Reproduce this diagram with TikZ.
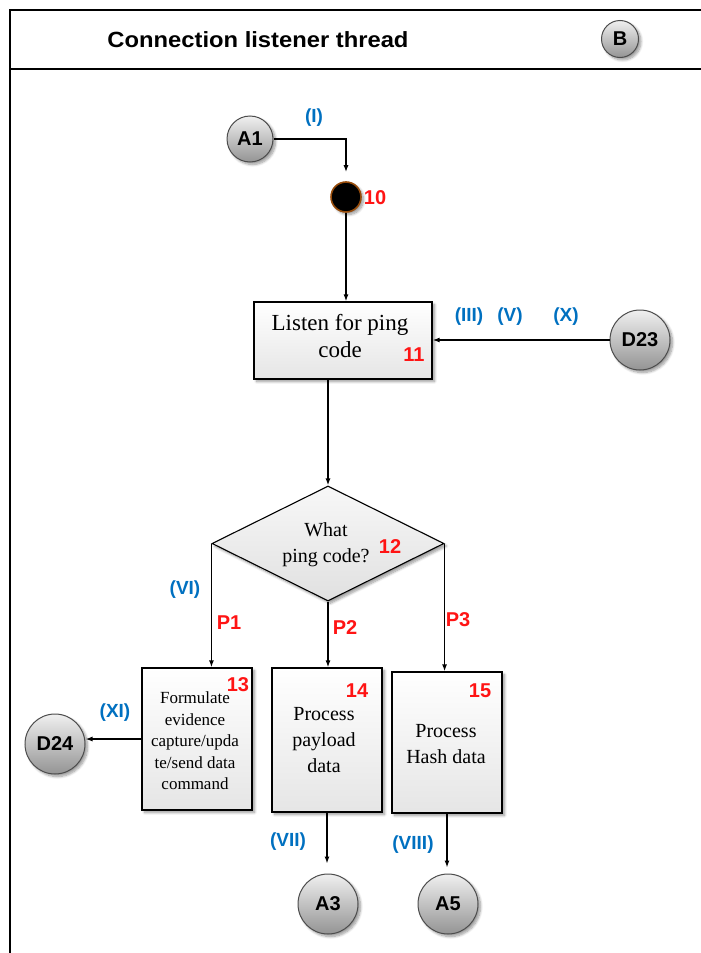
\documentclass[tikz,border=0pt]{standalone}
\usepackage{fontspec}
\setmainfont{Liberation Serif}
\newfontfamily\labelfont{Liberation Sans}
\usetikzlibrary{arrows.meta,shapes.geometric,shadows.blur,calc}

\definecolor{flowblue}{RGB}{0,112,192}
\definecolor{flowred}{RGB}{255,20,20}
\definecolor{dotrim}{RGB}{150,75,10}

\tikzset{
  softshadow/.style={blur shadow={shadow xshift=2.5pt, shadow yshift=-2.5pt,
      shadow blur radius=2.5pt, shadow blur steps=8, shadow opacity=40}},
  connector/.style={circle, draw=black!70, line width=1pt, top color=black!6,
      bottom color=black!42, inner sep=0pt, softshadow,
      font=\labelfont\bfseries\fontsize{20}{20}\selectfont},
  stepbox/.style={rectangle, draw=black, line width=1.3pt, top color=white,
      bottom color=black!10, inner sep=0pt, softshadow},
  decision/.style={diamond, draw=black, line width=1.1pt, top color=black!3,
      bottom color=black!12, inner sep=0pt, softshadow},
  flowline/.style={line width=1.3pt, draw=black},
  arr/.style={flowline, -{Latex[length=7pt,width=5pt]}},
  pathlbl/.style={text=flowblue, font=\labelfont\bfseries\fontsize{19}{19}\selectfont},
  stepno/.style={text=flowred, font=\labelfont\bfseries\fontsize{20}{20}\selectfont},
  boxtext/.style={align=center, font=\fontsize{20}{26}\selectfont},
}

\begin{document}
\begin{tikzpicture}[x=1pt,y=-1pt]
\useasboundingbox (0,0) rectangle (701,953);

% swimlane frame and header
\draw[line width=1.7pt] (701,10) -- (10,10) -- (10,953);
\draw[line width=1.7pt] (10,69) -- (701,69);
\node[font=\labelfont\bfseries\fontsize{22}{22}\selectfont] (title) at (258,40)
  {\scalebox{1.08}[1]{Connection listener thread}};
\node[connector, minimum size=37pt] (B) at (620,39) {B};

% start of the thread
\node[connector, minimum size=46pt] (A1) at (250,139) {A1};
\node[circle, fill=black, draw=dotrim, line width=1.6pt, minimum size=30pt,
      inner sep=0pt, softshadow] (dot10) at (346,197) {};
\node[stepno] (n10) at (375,198) {10};
\node[pathlbl] (lI) at (314,118) {(I)};

% listen step
\node[stepbox, minimum width=178pt, minimum height=77pt] (b11) at (343,340.5) {};
\node[boxtext, font=\fontsize{23}{27}\selectfont] (t11) at (340,336) {Listen for ping\\code};
\node[stepno] (n11) at (414,355) {11};
\node[connector, minimum size=60pt] (D23) at (640,340) {D23};
\node[pathlbl] (lIII) at (469,317) {(III)};
\node[pathlbl] (lV) at (510,317) {(V)};
\node[pathlbl] (lX) at (566,317) {(X)};

% decision on the ping code
\node[decision, minimum width=232pt, minimum height=115pt] (d12) at (328,543.5) {};
\node[boxtext] (t12) at (326,545) {What\\ping code?};
\node[stepno] (n12) at (390,547) {12};
\node[pathlbl] (lVI) at (185,590) {(VI)};
\node[stepno] (p1) at (229,623) {P1};
\node[stepno] (p2) at (345,628) {P2};
\node[stepno] (p3) at (458,620) {P3};

% the three branches
\node[stepbox, minimum width=110pt, minimum height=142pt] (b13) at (197,739) {};
\node[boxtext, font=\fontsize{17}{21.5}\selectfont] (t13) at (195,741)
  {Formulate\\evidence\\capture/upda\\te/send data\\command};
\node[stepno] (n13) at (238,685) {13};
\node[connector, minimum size=60pt] (D24) at (55,744) {D24};
\node[pathlbl] (lXI) at (115,713) {(XI)};

\node[stepbox, minimum width=110pt, minimum height=144pt] (b14) at (327,740) {};
\node[boxtext] (t14) at (324,740) {Process\\payload\\data};
\node[stepno] (n14) at (357,691) {14};

\node[stepbox, minimum width=110pt, minimum height=141pt] (b15) at (447,742.5) {};
\node[boxtext] (t15) at (446,744) {Process\\Hash data};
\node[stepno] (n15) at (480,691) {15};

\node[connector, minimum size=60pt] (A3) at (328,904) {A3};
\node[connector, minimum size=60pt] (A5) at (448,904) {A5};
\node[pathlbl] (lVII) at (288,842) {(VII)};
\node[pathlbl] (lVIII) at (413,845) {(VIII)};

% connectors
\draw[arr, shorten >=9pt] (A1.east) -| (dot10.north);
\draw[arr] (dot10.south) -- (dot10.south |- b11.north);
\draw[arr] (D23.west) -- (D23.west -| b11.east);
\draw[arr] (b11.south -| d12.north) -- (d12.north);
\draw[arr] (d12.west) -- (d12.west |- b13.north);
\draw[arr] (d12.south) -- (d12.south |- b14.north);
\draw[arr] (d12.east) -- (d12.east |- b15.north);
\draw[arr] (b13.west) -- (b13.west -| D24.east);
\draw[arr, shorten >=10pt] (b14.south) -- (b14.south |- A3.north);
\draw[arr, shorten >=6pt] (b15.south) -- (b15.south |- A5.north);
\end{tikzpicture}
\end{document}
